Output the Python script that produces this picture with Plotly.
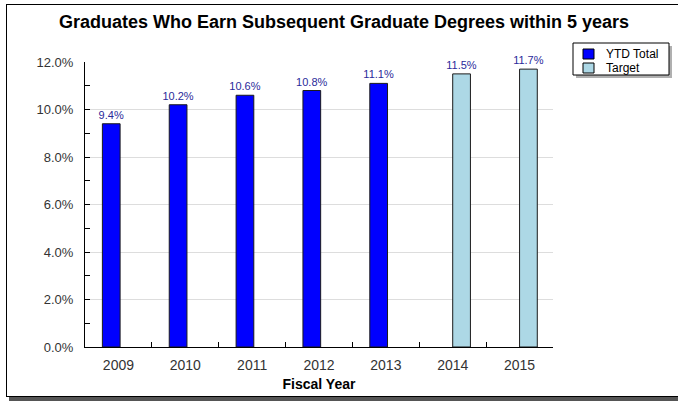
import plotly.graph_objects as go

years = ["2009", "2010", "2011", "2012", "2013", "2014", "2015"]
ytd_total = [9.4, 10.2, 10.6, 10.8, 11.1, None, None]
target = [None, None, None, None, None, 11.5, 11.7]
y_ticks = [0, 2, 4, 6, 8, 10, 12]
y_tick_labels = ["0.0%", "2.0%", "4.0%", "6.0%", "8.0%", "10.0%", "12.0%"]
series_names = ["YTD Total", "Target"]
series_colors = ["#0000ff", "#add8e6"]
series_offsets = [-0.24, 0.0]

W, H = 678, 401
L, R, T, B = 85, 553, 62, 347

def px(x):
    return (x - L) / (R - L)

def py(y):
    return (B - y) / (B - T)

def lab(vals):
    return [f"{v:.1f}%" if v is not None else "" for v in vals]

fig = go.Figure()
for name, vals, col, off in zip(series_names, [ytd_total, target], series_colors, series_offsets):
    fig.add_trace(go.Bar(
        x=years, y=vals, name=name, width=0.265, offset=off,
        marker=dict(color=col, line=dict(color="#1a1a1a", width=1)),
        text=lab(vals), textposition="outside", constraintext="none",
        textfont=dict(color="#2a2a9a", size=11, family="Liberation Sans, Arial"),
        cliponaxis=False, showlegend=False,
    ))

shapes = [
    # outer frame
    dict(type="line", xref="paper", yref="paper",
         x0=px(6), x1=px(690), y0=py(4.5), y1=py(4.5),
         line=dict(color="#000000", width=1), layer="above"),
    dict(type="line", xref="paper", yref="paper",
         x0=px(6.5), x1=px(6.5), y0=py(4), y1=py(397),
         line=dict(color="#000000", width=1), layer="above"),
    # bottom shadow
    dict(type="rect", xref="paper", yref="paper",
         x0=px(6), x1=px(690), y0=py(397), y1=py(396),
         line=dict(width=0), fillcolor="#000000", layer="above"),
    dict(type="rect", xref="paper", yref="paper",
         x0=px(9), x1=px(690), y0=py(405), y1=py(397),
         line=dict(width=0), fillcolor="#555555", layer="above"),
    # legend shadow and box
    dict(type="rect", xref="paper", yref="paper",
         x0=px(576), x1=px(672), y0=py(78), y1=py(46),
         line=dict(width=0), fillcolor="#b0b0b0", layer="below"),
    dict(type="rect", xref="paper", yref="paper",
         x0=px(573), x1=px(669), y0=py(75), y1=py(43),
         line=dict(color="#000000", width=1), fillcolor="#ffffff", layer="below"),
]
annotations = []
for i, (name, col) in enumerate(zip(series_names, series_colors)):
    top = 49 + i * 14
    shapes.append(dict(type="rect", xref="paper", yref="paper",
                       x0=px(583), x1=px(594), y0=py(top + 10), y1=py(top),
                       line=dict(color="#000000", width=1), fillcolor=col, layer="above"))
    annotations.append(dict(text=name, xref="paper", yref="paper",
                            x=px(604), y=py(top + 5), xanchor="left", yanchor="middle",
                            showarrow=False,
                            font=dict(size=12, color="#000000", family="Liberation Sans, Arial")))

fig.update_layout(
    width=W, height=H,
    margin=dict(l=L, r=W - R, t=T, b=H - B, pad=0, autoexpand=False),
    paper_bgcolor="#ffffff", plot_bgcolor="#ffffff",
    barmode="overlay",
    showlegend=False,
    font=dict(family="Liberation Sans, Arial", color="#333333"),
    title=dict(text="<b>Graduates Who Earn Subsequent Graduate Degrees within 5 years</b>",
               xref="container", x=344 / W, xanchor="center", y=1 - 22 / H, yanchor="middle",
               font=dict(size=18, color="#000000", family="Liberation Sans, Arial")),
    xaxis=dict(
        showline=True, linecolor="#000000", linewidth=1,
        ticks="inside", ticklen=5, tickcolor="#000000",
        tickson="boundaries",
        tickfont=dict(size=14, color="#333333"),
        ticklabelstandoff=5,
        title=dict(text="<b>Fiscal Year</b>", font=dict(size=14, color="#000000"), standoff=7),
        showgrid=False, zeroline=False, automargin=False,
    ),
    yaxis=dict(
        range=[0, 12], tickvals=y_ticks, ticktext=y_tick_labels,
        showline=True, linecolor="#000000", linewidth=1,
        ticks="inside", ticklen=5, tickcolor="#000000",
        minor=dict(ticks="inside", ticklen=5, tickcolor="#000000", dtick=1, showgrid=False),
        showgrid=True, gridcolor="#dddddd", gridwidth=1,
        zeroline=False, automargin=False,
        tickfont=dict(size=13, color="#333333"),
        ticklabelstandoff=8,
    ),
    shapes=shapes,
    annotations=annotations,
)

fig.write_html("out.html", config={"displayModeBar": False},
               post_script="document.body.style.margin='0';document.body.style.overflow='hidden';")
